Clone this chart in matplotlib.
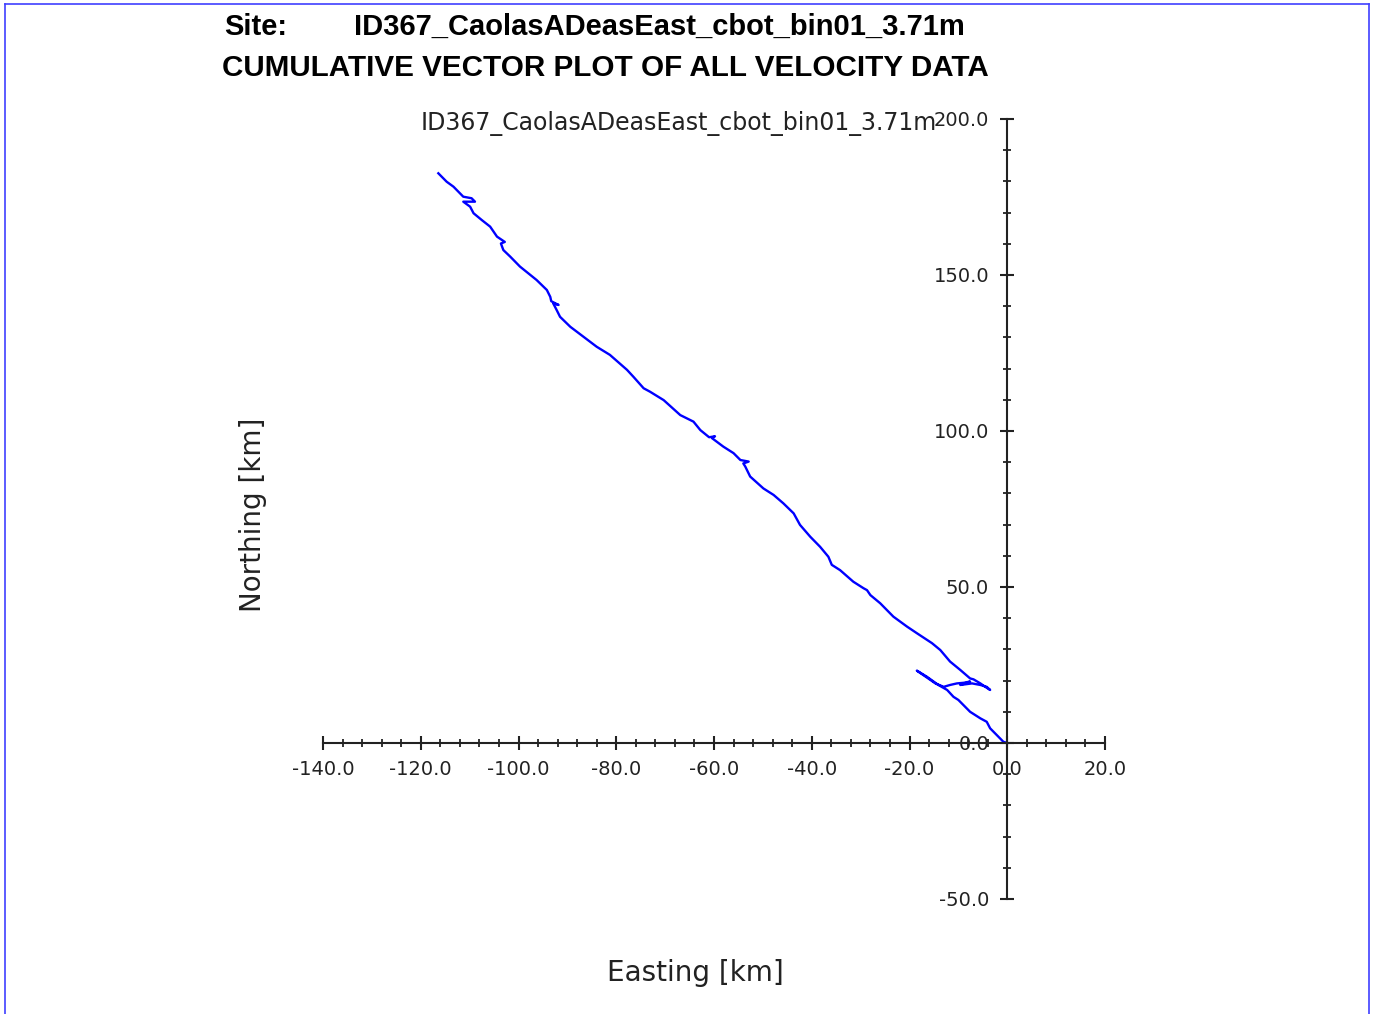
import numpy as np
import matplotlib.pyplot as plt
from matplotlib.lines import Line2D
from matplotlib.ticker import MultipleLocator, FormatStrFormatter

site = "ID367_CaolasADeasEast_cbot_bin01_3.71m"

# cumulative displacement [km]
east = [0.0, -0.8, -1.8, -3.5, -4.2, -5.5, -7.6, -10.0, -11.0, -12.3, -14.1,
        -16.4, -18.5, -14.7, -13.0, -11.7, -10.3, -8.9, -7.6, -9.6, -7.2, -5.5,
        -4.2, -3.5, -4.5, -5.5, -6.9, -7.6, -9.6, -11.7, -13.7, -15.4, -18.5,
        -20.5, -23.3, -26.0, -28.0, -28.7, -29.4, -31.5, -34.2, -35.9, -36.6,
        -38.3, -40.3, -42.4, -43.7, -45.8, -47.8, -49.9, -52.6, -53.6, -54.0,
        -52.9, -54.6, -56.0, -58.1, -60.4, -59.8, -61.0, -62.8, -64.2, -66.9,
        -70.3, -73.1, -74.4, -76.5, -77.8, -81.3, -84.0, -86.7, -89.4, -91.5,
        -92.2, -92.9, -91.8, -93.3, -93.5, -94.2, -96.3, -99.7, -101.7, -103.1,
        -103.6, -102.8, -104.4, -105.8, -107.5, -109.2, -109.9, -111.3, -108.9,
        -109.6, -111.3, -113.3, -114.7, -116.4]
north = [0.0, 0.4, 2.0, 4.7, 6.8, 7.9, 10.0, 13.8, 14.8, 17.0, 18.6,
         21.2, 23.2, 19.1, 18.0, 18.6, 19.1, 19.3, 19.7, 18.6, 19.1, 18.6,
         18.0, 17.0, 18.0, 19.1, 20.4, 20.7, 23.4, 26.1, 29.8, 32.0, 35.2,
         37.3, 40.5, 44.8, 47.4, 49.0, 49.6, 51.7, 55.4, 57.1, 59.7,
         62.9, 66.1, 69.9, 73.6, 76.8, 79.5, 81.6, 85.4, 88.6, 89.6,
         90.2, 90.7, 92.9, 95.0, 97.7, 98.3, 98.0, 100.3, 103.0, 105.1,
         109.9, 112.6, 113.7, 117.4, 119.6, 124.4, 127.0, 130.2, 133.4, 136.6,
         138.8, 140.9, 140.4, 141.6, 143.0, 145.2, 148.4, 152.7, 155.9, 158.0,
         160.1, 160.6, 162.3, 165.5, 167.6, 169.8, 171.9, 173.5, 173.5,
         174.6, 175.1, 178.3, 179.9, 182.6]

x_ticks = [-140, -120, -100, -80, -60, -40, -20, 0, 20]
y_ticks = [-50, 0, 50, 100, 150, 200]

fig = plt.figure(figsize=(13.78, 10.14), dpi=100)
ax = fig.add_axes([323/1378, 115/1014, 782/1378, 780/1014])

ax.plot(east, north, color='#0000ff', lw=1.7, solid_joinstyle='round')

ax.set_xlim(-140, 20)
ax.set_ylim(-50, 200)
ax.spines['left'].set_position(('data', 0))
ax.spines['bottom'].set_position(('data', 0))
ax.spines['top'].set_visible(False)
ax.spines['right'].set_visible(False)
for s in ('left', 'bottom'):
    ax.spines[s].set_linewidth(1.5)
    ax.spines[s].set_color('#222222')

ax.set_xticks(x_ticks)
ax.set_yticks(y_ticks)
ax.xaxis.set_minor_locator(MultipleLocator(4))
ax.yaxis.set_minor_locator(MultipleLocator(10))
ax.xaxis.set_major_formatter(FormatStrFormatter('%.1f'))
ax.yaxis.set_major_formatter(FormatStrFormatter('%.1f'))
ax.tick_params(which='major', direction='inout', length=10, width=1.5,
               color='#222222', labelsize=14, labelcolor='#222222', pad=7)
ax.tick_params(which='minor', direction='inout', length=6, width=1.3, color='#222222')
ax.tick_params(axis='y', which='major', pad=8)
for lab in ax.get_xticklabels() + ax.get_yticklabels():
    lab.set_family('DejaVu Sans')

fig.text(253/1378, 1 - 515/1014, "Northing [km]", rotation=90, ha='center', va='center',
         fontsize=20, family='DejaVu Sans', color='#222222')
fig.text(695/1378, 1 - 973/1014, "Easting [km]", ha='center', va='center',
         fontsize=20, family='DejaVu Sans', color='#222222')
fig.text(679/1378, 1 - 124/1014, site, ha='center', va='center',
         fontsize=17, family='DejaVu Sans', color='#222222')

fig.text(224/1378, 1 - 27/1014, "Site:", ha='left', va='center', fontsize=21,
         weight='bold', family=['Liberation Sans', 'DejaVu Sans'])
fig.text(354/1378, 1 - 27/1014, site, ha='left', va='center', fontsize=21,
         weight='bold', family=['Liberation Sans', 'DejaVu Sans'])
fig.text(222/1378, 1 - 68/1014, "CUMULATIVE VECTOR PLOT OF ALL VELOCITY DATA", ha='left',
         va='center', fontsize=21.3, weight='bold', family=['Liberation Sans', 'DejaVu Sans'])

# page frame
bx0, bx1, by1 = 4.5/1378, 1368.5/1378, 1 - 3.5/1014
fig.add_artist(Line2D([bx0, bx0], [0, by1], color='#4040ff', lw=1.2))
fig.add_artist(Line2D([bx1, bx1], [0, by1], color='#4040ff', lw=1.2))
fig.add_artist(Line2D([bx0, bx1], [by1, by1], color='#4040ff', lw=1.2))

fig.savefig("out.png", dpi=100)
